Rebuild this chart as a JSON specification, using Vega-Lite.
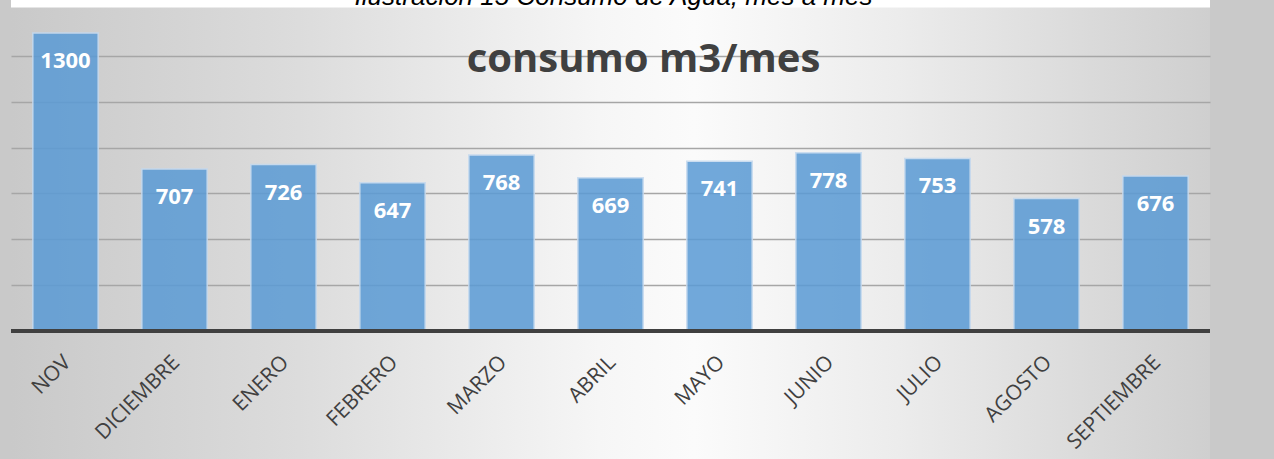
{
  "$schema": "https://vega.github.io/schema/vega-lite/v6.json",
  "width": 1199,
  "height": 459,
  "autosize": {"type": "none"},
  "padding": {"left": 11, "top": 0, "right": 64, "bottom": 0},
  "background": "#c9c9c9",
  "data": {
    "values": [
      {"mes": "NOV", "consumo": 1300},
      {"mes": "DICIEMBRE", "consumo": 707},
      {"mes": "ENERO", "consumo": 726},
      {"mes": "FEBRERO", "consumo": 647},
      {"mes": "MARZO", "consumo": 768},
      {"mes": "ABRIL", "consumo": 669},
      {"mes": "MAYO", "consumo": 741},
      {"mes": "JUNIO", "consumo": 778},
      {"mes": "JULIO", "consumo": 753},
      {"mes": "AGOSTO", "consumo": 578},
      {"mes": "SEPTIEMBRE", "consumo": 676}
    ]
  },
  "layer": [
    {
      "data": {"values": [{"franja": "caption"}]},
      "mark": {"type": "rect", "color": "#ffffff"},
      "encoding": {
        "y": {"datum": 1444},
        "y2": {"datum": 1411}
      }
    },
    {
      "mark": {"type": "bar", "color": "#5b9bd5", "opacity": 0.86, "stroke": "#c4d9ef", "strokeWidth": 1.5},
      "encoding": {
        "x": {
          "field": "mes", "type": "nominal", "sort": null,
          "scale": {"paddingInner": 0.4, "paddingOuter": 0.2},
          "axis": {
            "title": null, "domain": false, "ticks": false, "grid": false,
            "offset": -128, "labelAngle": -45, "labelAlign": "right", "labelBaseline": "middle",
            "labelPadding": 28, "labelOffset": 2, "labelFont": "Open Sans", "labelFontSize": 21, "labelColor": "#404040"
          }
        },
        "y": {
          "field": "consumo", "type": "quantitative",
          "scale": {"domain": [-558.4, 1444], "nice": false, "zero": false},
          "axis": {
            "title": null, "values": [200, 400, 600, 800, 1000, 1200], "grid": true,
            "gridColor": "#a6a6a6", "gridWidth": 1.5, "labels": false, "ticks": false, "domain": false
          }
        }
      }
    },
    {
      "mark": {"type": "rule", "color": "#404040", "strokeWidth": 4},
      "encoding": {"y": {"datum": 0}}
    },
    {
      "mark": {"type": "text", "dy": 28, "baseline": "middle", "color": "#ffffff", "font": "Open Sans", "fontWeight": "bold", "fontSize": 22},
      "encoding": {
        "x": {"field": "mes", "type": "nominal", "sort": null},
        "y": {"field": "consumo", "type": "quantitative"},
        "text": {"field": "consumo", "type": "quantitative"}
      }
    },
    {
      "data": {"values": [{"titulo": "consumo m3/mes"}]},
      "mark": {"type": "text", "dx": 33, "baseline": "middle", "color": "#404040", "font": "Open Sans", "fontWeight": "bold", "fontSize": 40},
      "encoding": {
        "x": {"datum": "ABRIL"},
        "y": {"datum": 1182},
        "text": {"field": "titulo"}
      }
    },
    {
      "data": {"values": [{"leyenda": "Ilustración 15 Consumo de Agua, mes a mes"}]},
      "mark": {"type": "text", "dx": 3, "baseline": "alphabetic", "color": "#000000", "font": "Liberation Sans", "fontStyle": "italic", "fontSize": 26},
      "encoding": {
        "x": {"datum": "ABRIL"},
        "y": {"datum": 1422},
        "text": {"field": "leyenda"}
      }
    }
  ],
  "config": {
    "view": {
      "stroke": null,
      "fill": {
        "gradient": "linear", "x1": 0, "y1": 0.5, "x2": 1, "y2": 0.5,
        "stops": [
          {"offset": 0, "color": "#c9c9c9"},
          {"offset": 0.24, "color": "#dcdcdc"},
          {"offset": 0.49, "color": "#f6f6f6"},
          {"offset": 0.57, "color": "#fbfbfb"},
          {"offset": 0.74, "color": "#ececec"},
          {"offset": 0.91, "color": "#d9d9d9"},
          {"offset": 1, "color": "#cfcfcf"}
        ]
      }
    }
  }
}
